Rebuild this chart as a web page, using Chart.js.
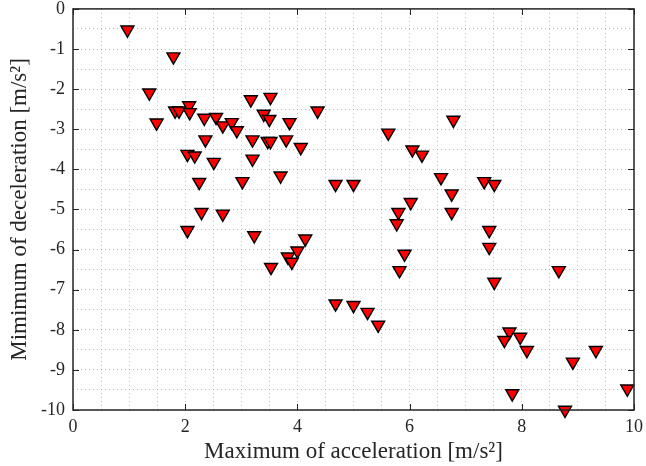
<!DOCTYPE html>
<html>
<head>
<meta charset="utf-8">
<script src="https://cdn.jsdelivr.net/npm/chart.js@4/dist/chart.umd.min.js"></script>
<style>
  html, body { margin: 0; padding: 0; background: #fff; }
  #wrap { width: 646px; height: 466px; }
</style>
</head>
<body>
<div id="wrap"><canvas id="chart" width="646" height="466"></canvas></div>
<script>
// values
const maxAccel = [
    0.97, 1.79, 1.36, 1.49, 1.82, 1.89, 2.07, 2.08, 2.34, 2.55,
    2.67, 2.83, 2.92, 3.17, 3.52, 3.40, 3.50, 3.86, 4.36, 2.36,
    3.20, 3.47, 3.52, 3.80, 4.06, 2.04, 2.17, 2.51, 3.20, 2.25,
    3.02, 3.70, 4.68, 5.00, 2.29, 2.67, 2.04, 3.23, 3.53, 3.83,
    3.90, 4.00, 4.14, 4.68, 5.00, 5.62, 6.78, 6.05, 6.22, 6.56,
    6.75, 7.33, 7.51, 6.02, 5.80, 6.75, 5.77, 7.42, 7.42, 5.91,
    5.82, 8.66, 7.51, 5.25, 5.44, 7.78, 7.69, 7.97, 8.09, 9.32,
    8.91, 7.83, 8.77, 9.88
];
const minDecel = [
    -0.52, -1.19, -2.09, -2.84, -2.54, -2.54, -2.41, -2.58, -2.72, -2.70,
    -2.91, -2.83, -3.03, -2.26, -2.20, -2.62, -2.75, -2.83, -2.54, -3.26,
    -3.26, -3.30, -3.30, -3.26, -3.45, -3.62, -3.66, -3.82, -3.74, -4.32,
    -4.30, -4.16, -4.37, -4.37, -5.07, -5.11, -5.52, -5.65, -6.44, -6.18,
    -6.31, -6.03, -5.73, -7.35, -7.39, -3.09, -2.77, -3.51, -3.64, -4.20,
    -4.61, -4.30, -4.37, -4.82, -5.07, -5.07, -5.35, -5.52, -5.94, -6.11,
    -6.52, -6.52, -6.81, -7.56, -7.88, -8.05, -8.26, -8.18, -8.51, -8.51,
    -8.80, -9.59, -10.0, -9.47
];
const xTickLabels = ['0', '2', '4', '6', '8', '10'];
const yTickLabels = ['0', '-1', '-2', '-3', '-4', '-5', '-6', '-7', '-8', '-9', '-10'];

const FONT = "'Liberation Serif', 'Times New Roman', serif";
const TEXT_COLOR = '#262626';

const points = maxAccel.map((x, i) => ({ x: x, y: minDecel[i] }));

// draws the box and the inward major tick marks, like MATLAB does
const boxPlugin = {
    id: 'boxPlugin',
    afterDatasetsDraw(chart) {
        const ctx = chart.ctx;
        const a = chart.chartArea;
        const xs = chart.scales.x;
        const ys = chart.scales.y;
        ctx.save();
        ctx.strokeStyle = '#262626';
        ctx.lineWidth = 1;
        ctx.beginPath();
        xTickLabels.forEach(t => {
            const px = Math.round(xs.getPixelForValue(parseFloat(t))) + 0.5;
            ctx.moveTo(px, a.bottom); ctx.lineTo(px, a.bottom - 6);
            ctx.moveTo(px, a.top); ctx.lineTo(px, a.top + 6);
        });
        yTickLabels.forEach(t => {
            const py = Math.round(ys.getPixelForValue(parseFloat(t))) + 0.5;
            ctx.moveTo(a.left, py); ctx.lineTo(a.left + 6, py);
            ctx.moveTo(a.right, py); ctx.lineTo(a.right - 6, py);
        });
        ctx.stroke();
        ctx.lineWidth = 1.5;
        ctx.strokeRect(a.left, a.top, a.right - a.left, a.bottom - a.top);
        ctx.restore();
    }
};

const gridStyle = {
    color: 'rgba(160, 160, 160, 0.75)',
    lineWidth: 1,
    drawTicks: false
};

new Chart(document.getElementById('chart'), {
    type: 'scatter',
    data: {
        datasets: [{
            data: points,
            pointStyle: 'triangle',
            rotation: 180,
            pointRadius: 7.5,
            pointHoverRadius: 7.5,
            backgroundColor: '#ff0000',
            borderColor: '#000000',
            borderWidth: 1.4,
            clip: false
        }]
    },
    options: {
        responsive: false,
        animation: false,
        layout: { padding: { top: 8, right: 12, left: 0, bottom: 0 } },
        plugins: {
            legend: { display: false },
            tooltip: { enabled: false }
        },
        scales: {
            x: {
                type: 'linear',
                min: 0,
                max: 10,
                border: { display: false, dash: [1, 3] },
                grid: gridStyle,
                ticks: {
                    stepSize: 0.5,
                    autoSkip: false,
                    maxRotation: 0,
                    padding: 6,
                    color: TEXT_COLOR,
                    font: { family: FONT, size: 18 },
                    callback: v => (xTickLabels.includes(String(v)) ? String(v) : '')
                },
                title: {
                    display: true,
                    text: 'Maximum of acceleration [m/s²]',
                    color: TEXT_COLOR,
                    font: { family: FONT, size: 23 },
                    padding: { top: 0, bottom: 0 }
                },
                afterFit: s => {
                    s.height = 56;
                    s.paddingLeft = 0;
                    s.paddingRight = 0;
                }
            },
            y: {
                type: 'linear',
                min: -10,
                max: 0,
                border: { display: false, dash: [1, 3] },
                grid: gridStyle,
                ticks: {
                    stepSize: 0.5,
                    autoSkip: false,
                    padding: 8,
                    color: TEXT_COLOR,
                    font: { family: FONT, size: 18 },
                    callback: v => (yTickLabels.includes(String(v)) ? String(v) : '')
                },
                title: {
                    display: true,
                    text: 'Mimimum of deceleration [m/s²]',
                    color: TEXT_COLOR,
                    font: { family: FONT, size: 23 },
                    padding: { top: 6, bottom: 0 }
                },
                afterFit: s => {
                    s.width = 73;
                    s.paddingTop = 0;
                    s.paddingBottom = 0;
                }
            }
        }
    },
    plugins: [boxPlugin]
});
</script>
</body>
</html>
